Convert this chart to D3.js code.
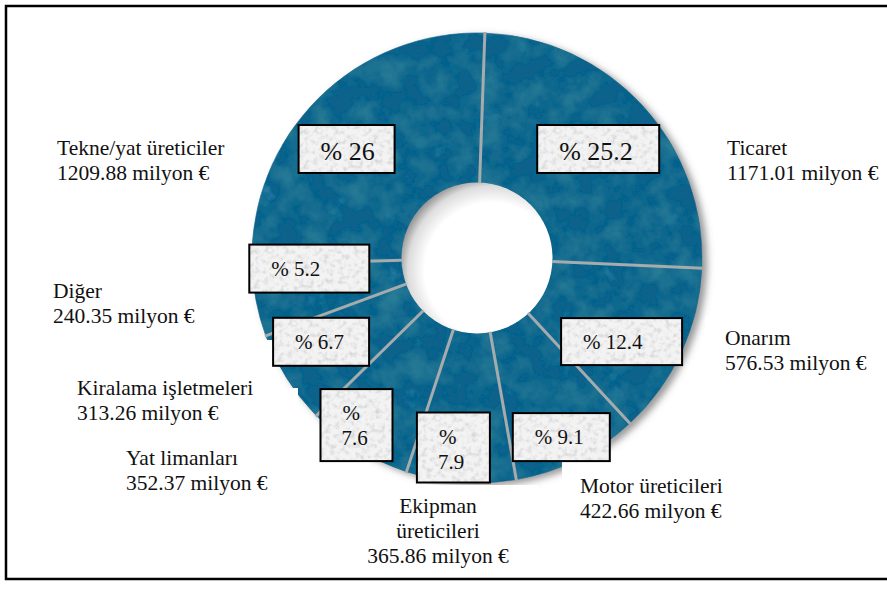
<!DOCTYPE html>
<html>
<head>
<meta charset="utf-8">
<script src="https://cdn.jsdelivr.net/npm/d3@7/dist/d3.min.js"></script>
<style>
  html, body { margin: 0; padding: 0; background: #fff; }
  svg { display: block; }
</style>
</head>
<body>
<svg id="chart" width="887" height="590"></svg>
<script>
// Sector data, clockwise from the top
const categories = ["Ticaret", "Onarım", "Motor üreticileri", "Ekipman üreticileri",
                    "Yat limanları", "Kiralama işletmeleri", "Diğer", "Tekne/yat üreticiler"];
const values = [1171.01, 576.53, 422.66, 365.86, 352.37, 313.26, 240.35, 1209.88];
const percents = ["25.2", "12.4", "9.1", "7.9", "7.6", "6.7", "5.2", "26"];
const valueLabels = ["1171.01 milyon €", "576.53 milyon €", "422.66 milyon €", "365.86 milyon €",
                     "352.37 milyon €", "313.26 milyon €", "240.35 milyon €", "1209.88 milyon €"];

// Percentage boxes: radius from centre, angle nudge (deg), size, font size, stacked or not
const boxLayout = [
  { r: 163, da: 0.7, w: 122, h: 48, fs: 26, stack: false },
  { r: 167, da: 5.1, w: 121, h: 47, fs: 21, stack: false },
  { r: 198, da: 1.2, w: 97,  h: 48, fs: 21, stack: false },
  { r: 191, da: 3.0, w: 73,  h: 70, fs: 21, stack: true },
  { r: 206, da: 3.9, w: 72,  h: 72, fs: 21, stack: true },
  { r: 177, da: 4.1, w: 96,  h: 48, fs: 21, stack: false },
  { r: 168, da: 7.3, w: 120, h: 48, fs: 21, stack: false },
  { r: 170, da: -5.3, w: 96, h: 48, fs: 26, stack: false }
];

// Category captions: anchor point of first baseline and alignment
const captionLayout = [
  { x: 727, y: 155, anchor: "start" },
  { x: 725, y: 345, anchor: "start" },
  { x: 580, y: 493, anchor: "start" },
  { x: 438, y: 513, anchor: "middle" },
  { x: 126, y: 465, anchor: "start" },
  { x: 77,  y: 395, anchor: "start" },
  { x: 53,  y: 298, anchor: "start" },
  { x: 57,  y: 155, anchor: "start" }
];

// Caption lines (Ekipman wraps onto two lines)
const captionLines = [
  ["Ticaret"], ["Onarım"], ["Motor üreticileri"], ["Ekipman", "üreticileri"],
  ["Yat limanları"], ["Kiralama işletmeleri"], ["Diğer"], ["Tekne/yat üreticiler"]
];

// White backing panels behind captions
const panels = [
  { x: 705, y: 125, w: 182, h: 73 },
  { x: 705, y: 317, w: 182, h: 62 },
  { x: 562, y: 462, w: 180, h: 62 },
  { x: 362, y: 485, w: 176, h: 83 },
  { x: 105, y: 460, w: 265, h: 40 },
  { x: 70,  y: 388, w: 228, h: 40 },
  { x: 40,  y: 340, w: 233, h: 48 }
];

const SERIF = "'Liberation Serif', 'Times New Roman', Times, 'DejaVu Serif', serif";
const W = 887, H = 590;
const cx = 477, cy = 258, rOuter = 225, rInner = 75;
const startOffset = 2 * Math.PI / 180;

const svg = d3.select("#chart").attr("font-family", SERIF);
const defs = svg.append("defs");

// Mottled teal surface: darker blotches over a deep teal base
const mottle = defs.append("filter").attr("id", "mottle")
  .attr("x", "-5%").attr("y", "-5%").attr("width", "110%").attr("height", "110%");
mottle.append("feTurbulence").attr("type", "fractalNoise").attr("baseFrequency", 0.04)
  .attr("numOctaves", 4).attr("seed", 7).attr("result", "n");
mottle.append("feColorMatrix").attr("in", "n").attr("type", "matrix")
  .attr("values", "0 0 0 0 0.02  0 0 0 0 0.20  0 0 0 0 0.30  2.2 0 0 0 -0.85").attr("result", "dk");
mottle.append("feComposite").attr("in", "dk").attr("in2", "SourceGraphic").attr("operator", "in").attr("result", "dk2");
mottle.append("feColorMatrix").attr("in", "n").attr("type", "matrix")
  .attr("values", "0 0 0 0 0.07  0 0 0 0 0.42  0 0 0 0 0.60  0 1.1 0 0 -0.78").attr("result", "lt");
mottle.append("feComposite").attr("in", "lt").attr("in2", "SourceGraphic").attr("operator", "in").attr("result", "lt2");
const mm = mottle.append("feMerge");
mm.append("feMergeNode").attr("in", "SourceGraphic");
mm.append("feMergeNode").attr("in", "lt2");
mm.append("feMergeNode").attr("in", "dk2");

// Soft drop shadow for the ring
const shadow = defs.append("filter").attr("id", "shadow")
  .attr("x", "-10%").attr("y", "-10%").attr("width", "120%").attr("height", "120%");
shadow.append("feDropShadow").attr("dx", 5).attr("dy", 3).attr("stdDeviation", 3.5)
  .attr("flood-color", "#555").attr("flood-opacity", 0.6);

// Grainy paper for percentage boxes
const grain = defs.append("filter").attr("id", "grain")
  .attr("x", 0).attr("y", 0).attr("width", 1).attr("height", 1);
grain.append("feTurbulence").attr("type", "fractalNoise").attr("baseFrequency", 0.2)
  .attr("numOctaves", 2).attr("seed", 11).attr("result", "n");
grain.append("feColorMatrix").attr("in", "n").attr("type", "matrix")
  .attr("values", "0 0 0 0 0.62  0 0 0 0 0.62  0 0 0 0 0.62  2.0 0 0 0 -0.9").attr("result", "g");
grain.append("feComposite").attr("in", "g").attr("in2", "SourceGraphic").attr("operator", "in").attr("result", "g2");
const gm = grain.append("feMerge");
gm.append("feMergeNode").attr("in", "SourceGraphic");
gm.append("feMergeNode").attr("in", "g2");

// Shading inside the hole
const holeGrad = defs.append("radialGradient").attr("id", "holeGrad")
  .attr("cx", "0.6").attr("cy", "0.58").attr("r", "0.62");
holeGrad.append("stop").attr("offset", "0.72").attr("stop-color", "#ffffff");
holeGrad.append("stop").attr("offset", "0.9").attr("stop-color", "#dcdcdc");
holeGrad.append("stop").attr("offset", "1").attr("stop-color", "#9a9a9a");

// Frame
svg.append("rect").attr("x", 6).attr("y", 6).attr("width", W + 10).attr("height", 573)
  .attr("fill", "#fff").attr("stroke", "#000").attr("stroke-width", 2.5);

// Pie layout
const pie = d3.pie().sort(null).value(d => d)
  .startAngle(startOffset).endAngle(startOffset + 2 * Math.PI);
const arcs = pie(values);
const arcGen = d3.arc().innerRadius(rInner).outerRadius(rOuter);

const g = svg.append("g").attr("transform", `translate(${cx},${cy})`);
const ring = g.append("g").attr("filter", "url(#shadow)");
ring.append("g").attr("filter", "url(#mottle)")
  .selectAll("path").data(arcs).join("path")
  .attr("d", arcGen)
  .attr("fill", "#0f628c")
  .attr("stroke", "#0f628c").attr("stroke-width", 0.6);

// Hole shading
g.append("circle").attr("r", rInner + 0.5).attr("fill", "url(#holeGrad)");

// Gray separators at each sector boundary
g.selectAll("line.sep").data(arcs).join("line")
  .attr("class", "sep")
  .attr("x1", d => Math.sin(d.endAngle) * rInner)
  .attr("y1", d => -Math.cos(d.endAngle) * rInner)
  .attr("x2", d => Math.sin(d.endAngle) * (rOuter + 1))
  .attr("y2", d => -Math.cos(d.endAngle) * (rOuter + 1))
  .attr("stroke", "#a6abad").attr("stroke-width", 3);

// White caption panels
svg.append("g").selectAll("rect").data(panels).join("rect")
  .attr("x", d => d.x).attr("y", d => d.y).attr("width", d => d.w).attr("height", d => d.h)
  .attr("fill", "#fff");

// Percentage boxes
const boxes = svg.append("g").selectAll("g").data(arcs).join("g")
  .attr("transform", (d, i) => {
    const L = boxLayout[i];
    const a = (d.startAngle + d.endAngle) / 2 + L.da * Math.PI / 180;
    const bx = cx + Math.sin(a) * L.r - L.w / 2;
    const by = cy - Math.cos(a) * L.r - L.h / 2;
    return `translate(${bx.toFixed(1)},${by.toFixed(1)})`;
  });
boxes.append("rect")
  .attr("width", (d, i) => boxLayout[i].w).attr("height", (d, i) => boxLayout[i].h)
  .attr("fill", "#f3f3f3").attr("filter", "url(#grain)");
boxes.append("rect")
  .attr("width", (d, i) => boxLayout[i].w).attr("height", (d, i) => boxLayout[i].h)
  .attr("fill", "none").attr("stroke", "#000").attr("stroke-width", 2);
boxes.each(function (d, i) {
  const L = boxLayout[i];
  const sel = d3.select(this);
  if (L.stack) {
    sel.append("text").attr("x", 22).attr("y", 31).attr("font-size", L.fs)
      .attr("font-family", SERIF).attr("fill", "#111").text("%");
    sel.append("text").attr("x", 21).attr("y", 56).attr("font-size", L.fs)
      .attr("font-family", SERIF).attr("fill", "#111").text(percents[i]);
  } else {
    sel.append("text").attr("x", 22).attr("y", L.fs > 24 ? 35 : 31)
      .attr("font-size", L.fs).attr("font-family", SERIF).attr("fill", "#111")
      .text("% " + percents[i]);
  }
});

// Category captions
const caps = svg.append("g").selectAll("text").data(categories).join("text")
  .attr("font-family", SERIF)
  .attr("font-size", 21.5)
  .attr("fill", "#111")
  .attr("text-anchor", (d, i) => captionLayout[i].anchor)
  .attr("x", (d, i) => captionLayout[i].x)
  .attr("y", (d, i) => captionLayout[i].y);
caps.each(function (d, i) {
  const t = d3.select(this);
  const lines = captionLines[i].concat([valueLabels[i]]);
  lines.forEach((ln, k) => {
    t.append("tspan").attr("x", captionLayout[i].x).attr("dy", k === 0 ? 0 : 25).text(ln);
  });
});
</script>
</body>
</html>
